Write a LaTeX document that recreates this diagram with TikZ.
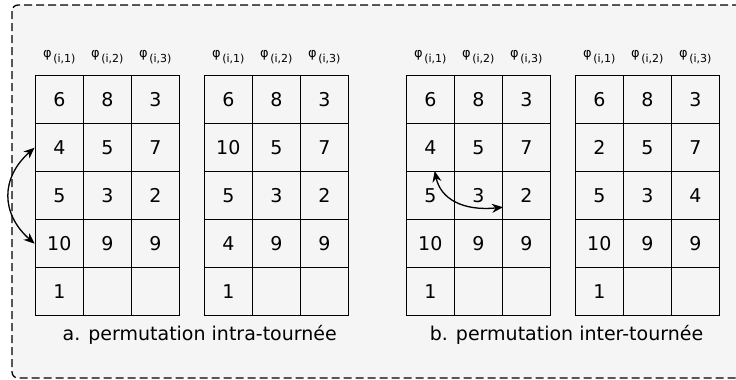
\documentclass[tikz,border=0pt]{standalone}
\usepackage{fontspec}
\setmainfont{DejaVu Sans}
\usetikzlibrary{arrows.meta}

% one grid: name, left edge, the 15 values row by row
\newcommand\grille[3]{%
  \foreach \v [count=\k from 0] in {#3} {
    \pgfmathtruncatemacro\ri{div(\k,3)}
    \pgfmathtruncatemacro\ci{mod(\k,3)}
    \node[cellule] (#1-\ri-\ci) at ({#2+24+48*\ci},{99.7+48*\ri}) {\v};
  }
  \foreach \col in {1,2,3}
    \node[entete] (#1-h\col) at ({#2-24+48*\col},57)
      {φ\kern1.5pt\raisebox{-4.5pt}{\fontsize{11}{11}\selectfont(i,\col)}};
}

\begin{document}
\begin{tikzpicture}[x=1pt, y=-1pt,
    cellule/.style={draw, line width=1.4pt, minimum size=48pt, inner sep=0pt,
      font=\fontsize{19}{19}\selectfont},
    entete/.style={inner sep=0pt, font=\fontsize{13}{13}\selectfont},
    legende/.style={inner sep=0pt, font=\fontsize{19}{19}\selectfont},
    fleche/.style={line width=1.3pt,
      {Stealth[length=11pt,width=9pt]}-{Stealth[length=11pt,width=9pt]}}]
    \clip (0,0) rectangle (736,380);
    \draw[line width=1.3pt, dash pattern=on 8pt off 4pt, rounded corners=6pt,
      fill=black!4] (12,5) rectangle (760,378);

    \grille{a}{35.3}{6,8,3,4,5,7,5,3,2,10,9,9,1,{},{}}
    \grille{b}{204.3}{6,8,3,10,5,7,5,3,2,4,9,9,1,{},{}}
    \grille{c}{406.3}{6,8,3,4,5,7,5,3,2,10,9,9,1,{},{}}
    \grille{d}{575.3}{6,8,3,2,5,7,5,3,4,10,9,9,1,{},{}}

    \node[legende] (la) at (199.7,335) {a. permutation intra-tournée};
    \node[legende] (lb) at (566.5,335) {b. permutation inter-tournée};

    \draw[fleche] (a-1-0.west) .. controls +(-34,30) and +(-34,-30) .. (a-3-0.west);
    \draw[fleche] (c-2-0.80) .. controls +(6,28) and +(-40,4) .. (c-2-1.-25);
\end{tikzpicture}
\end{document}
